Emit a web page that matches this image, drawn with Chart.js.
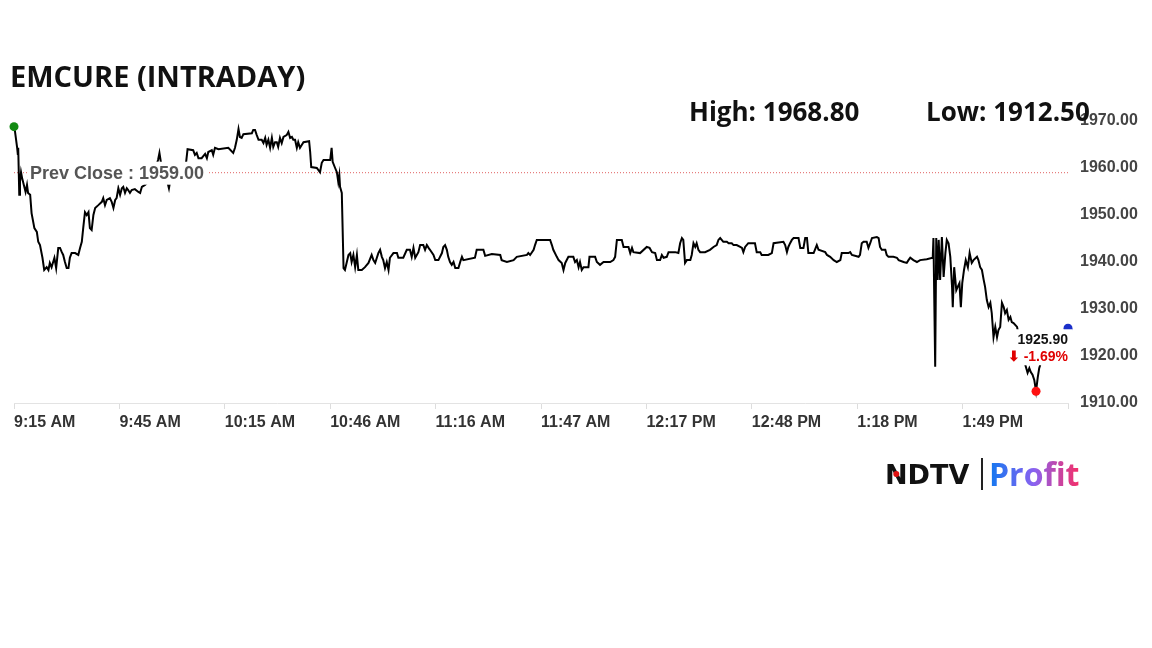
<!DOCTYPE html>
<html>
<head>
<meta charset="utf-8">
<script src="https://cdn.jsdelivr.net/npm/chart.js@4.4.1/dist/chart.umd.min.js"></script>
<style>
  html, body { margin: 0; padding: 0; background: #fff; }
  canvas { display: block; }
</style>
</head>
<body>
<canvas id="grafica" width="1152" height="648"></canvas>
<script>
// ticks every 30 slots, ten labels, last slot (300) has no label
var tickLabels = ['9:15 AM', '9:45 AM', '10:15 AM', '10:46 AM', '11:16 AM', '11:47 AM', '12:17 PM', '12:48 PM', '1:18 PM', '1:49 PM']
var yTicks = [1910, 1920, 1930, 1940, 1950, 1960, 1970]

var titulo = 'EMCURE (INTRADAY)'
var prevClose = 1959.00
var lastPrice = 1925.90
var dayHigh = 1968.80
var dayLow = 1912.50

// time slots (x)
var slots = [
  0, 0.3, 0.9, 1.1, 1.2, 1.5, 1.7, 2.0, 2.3, 2.8,
  3.3, 3.7, 4.0, 4.6, 5.0, 5.8, 6.5, 6.9, 7.4, 8.1,
  8.6, 9.3, 9.8, 10.2, 10.7, 11.5, 12.0, 12.6, 13.1, 13.6,
  14.0, 14.5, 15.0, 15.5, 15.9, 16.4, 17.4, 18.3, 18.8, 19.3,
  19.7, 20.2, 20.7, 21.2, 21.6, 22.1, 22.6, 23.1, 24.0, 25.0,
  25.4, 25.9, 26.4, 27.3, 27.8, 28.3, 28.8, 29.2, 29.7, 30.2,
  30.7, 31.1, 31.6, 32.1, 32.5, 33.0, 33.5, 34.4, 35.4, 35.9,
  36.4, 37.3, 38.7, 40.1, 41.0, 41.4, 41.8, 43.0, 44.1, 44.7,
  46.1, 47.8, 49.0, 49.4, 51.0, 51.5, 52.0, 52.5, 53.4, 54.4,
  54.9, 55.3, 56.3, 56.7, 57.2, 58.2, 61.0, 62.4, 62.9, 63.4,
  63.9, 64.3, 64.8, 65.3, 67.7, 68.1, 68.6, 69.1, 69.6, 70.5,
  71.0, 71.5, 71.9, 72.4, 72.9, 73.4, 73.8, 74.3, 74.8, 75.2,
  75.7, 76.2, 76.7, 77.6, 78.1, 78.6, 79.1, 79.5, 80.0, 80.5,
  80.9, 81.4, 81.9, 82.4, 84.0, 84.3, 84.6, 86.2, 87.1, 87.6,
  88.1, 90.0, 90.4, 90.7, 91.4, 91.9, 92.3, 92.6, 92.8, 93.3, 93.8,
  94.2, 95.2, 95.7, 96.1, 96.6, 97.1, 97.6, 98.0, 99.0, 99.9,
  100.9, 101.8, 102.3, 102.8, 103.7, 104.2, 104.7, 105.1, 105.6, 106.1,
  106.6, 107.0, 108.0, 109.0, 109.4, 110.8, 111.8, 112.7, 113.2, 113.7,
  114.2, 115.1, 115.6, 116.5, 117.0, 117.5, 118.0, 118.4, 119.4, 119.9,
  120.8, 121.8, 122.2, 122.7, 123.2, 123.6, 124.1, 124.6, 125.1, 125.6,
  126.5, 127.0, 127.5, 127.9, 131.2, 131.7, 133.6, 134.1, 136.0, 138.4,
  138.8, 140.3, 142.2, 143.1, 146.0, 146.4, 146.9, 147.9, 148.3, 148.8,
  152.6, 153.1, 153.5, 154.5, 155.0, 155.9, 156.4, 156.9, 157.8, 159.2,
  159.7, 160.2, 160.7, 161.1, 161.6, 162.1, 163.5, 163.8, 165.4, 165.9,
  166.8, 167.8, 169.7, 170.6, 171.1, 171.6, 173.0, 173.5, 174.9, 175.4,
  175.9, 176.3, 178.2, 180.1, 180.9, 181.6, 182.5, 183.0, 183.9, 184.4,
  184.9, 185.8, 186.3, 188.2, 189.1, 189.6, 190.1, 190.5, 191.0, 191.5,
  192.5, 192.9, 193.4, 193.9, 194.3, 194.8, 195.3, 196.7, 198.1, 199.1,
  200.0, 200.5, 201.0, 201.9, 202.9, 203.4, 204.3, 204.8, 205.7, 206.7,
  207.2, 207.6, 208.1, 209.0, 210.9, 211.4, 212.4, 212.8, 214.7, 215.7,
  216.2, 219.0, 219.5, 220.0, 220.4, 220.9, 221.4, 221.9, 223.3, 223.8,
  224.7, 225.2, 225.7, 226.1, 227.6, 228.5, 229.0, 230.9, 231.4, 232.3,
  233.3, 234.2, 235.2, 235.6, 237.5, 238.0, 238.5, 240.4, 240.8, 241.3,
  241.8, 242.7, 243.2, 243.7, 244.2, 245.6, 246.1, 246.5, 247.0, 248.0,
  248.4, 248.9, 250.3, 251.3, 251.8, 253.2, 254.1, 254.6, 255.1, 256.0,
  257.0, 257.9, 259.8, 261.5,
  261.7, 262.2, 262.5, 262.9, 263.2, 263.6, 264.1, 264.6, 265.1, 265.5,
  266.0, 266.5, 267.0, 267.2, 267.6, 268.2, 268.6, 269.1, 269.5, 269.9,
  270.4, 270.9, 271.5, 272.0, 272.6, 273.1, 274.1, 274.5, 275.0, 275.5,
  276.0, 276.4, 276.9, 277.4, 277.9, 278.3, 278.8, 279.3, 279.8, 280.2,
  280.7, 281.2, 281.7, 282.1, 282.6, 283.1, 283.6, 284.0, 284.5, 285.5,
  286.2, 287.1, 288.0, 288.5, 289.0, 289.4, 289.9, 290.4, 290.9, 291.4,
  291.8, 292.1
]

// price at each slot
var precios = [
  1968.8, 1967.7, 1964.3, 1962.8, 1964.3, 1954.3, 1957.0, 1959.1, 1957.9, 1956.4,
  1954.9, 1956.4, 1954.7, 1954.3, 1950.4, 1947.2, 1946.4, 1944.3, 1943.6, 1940.9,
  1938.3, 1938.9, 1938.3, 1939.8, 1938.9, 1940.9, 1938.7, 1943.0, 1943.0, 1942.1,
  1941.5, 1940.0, 1938.7, 1938.7, 1940.9, 1941.9, 1941.9, 1941.5, 1943.0, 1944.3,
  1947.2, 1950.6, 1950.0, 1950.6, 1947.2, 1946.8, 1950.0, 1951.5, 1952.1, 1952.8,
  1953.6, 1952.1, 1953.2, 1953.6, 1952.8, 1951.5, 1953.2, 1953.6, 1955.7, 1954.3,
  1955.7, 1956.0, 1954.7, 1955.7, 1955.3, 1954.7, 1955.3, 1955.5, 1954.9, 1954.7,
  1956.0, 1956.4, 1957.4, 1959.6, 1961.7, 1963.2, 1961.3, 1959.1, 1955.7, 1958.3,
  1959.1, 1960.0, 1961.3, 1964.0, 1963.8, 1962.8, 1963.2, 1962.1, 1962.1, 1963.0,
  1962.1, 1963.4, 1963.8, 1962.8, 1964.3, 1964.0, 1964.3, 1963.2, 1964.3, 1966.0,
  1968.3, 1966.6, 1966.4, 1967.2, 1967.4, 1968.1, 1968.1, 1967.0, 1966.0, 1966.0,
  1965.3, 1966.4, 1964.9, 1966.0, 1964.3, 1966.4, 1964.5, 1965.5, 1965.5, 1964.5,
  1966.4, 1965.3, 1966.6, 1967.0, 1967.7, 1966.4, 1966.6, 1966.0, 1966.0, 1964.3,
  1965.5, 1964.3, 1964.9, 1965.5, 1965.7, 1963.4, 1960.2, 1960.0, 1959.1, 1961.1,
  1961.7, 1961.7, 1964.3, 1961.3, 1960.0, 1959.1, 1957.0, 1958.5, 1956.0, 1954.7, 1938.7,
  1938.3, 1941.5, 1941.9, 1940.0, 1941.5, 1938.9, 1941.5, 1938.3, 1938.3, 1938.9,
  1939.8, 1941.5, 1940.4, 1939.8, 1941.9, 1942.6, 1941.1, 1940.4, 1938.7, 1940.0,
  1938.3, 1940.9, 1941.9, 1941.9, 1940.9, 1940.9, 1942.6, 1942.6, 1941.1, 1943.0,
  1940.9, 1942.1, 1943.6, 1943.6, 1942.6, 1943.6, 1943.0, 1942.6, 1941.5, 1940.4,
  1940.4, 1941.9, 1943.2, 1943.6, 1942.6, 1941.1, 1940.0, 1939.4, 1940.0, 1938.7,
  1938.7, 1940.0, 1941.1, 1940.4, 1940.9, 1942.6, 1942.6, 1941.3, 1941.7, 1941.5,
  1940.4, 1940.0, 1940.4, 1941.1, 1941.5, 1941.9, 1941.5, 1942.6, 1943.6, 1944.7,
  1944.7, 1943.6, 1942.6, 1941.1, 1940.4, 1939.8, 1938.3, 1939.8, 1941.1, 1941.1,
  1940.0, 1940.4, 1938.9, 1940.0, 1938.3, 1938.9, 1938.9, 1941.1, 1941.1, 1940.0,
  1939.4, 1940.0, 1940.0, 1940.4, 1941.1, 1944.7, 1944.7, 1943.2, 1943.2, 1941.9,
  1943.0, 1942.1, 1941.9, 1943.2, 1943.0, 1942.1, 1941.9, 1940.4, 1940.4, 1941.5,
  1940.9, 1941.1, 1942.1, 1942.1, 1941.9, 1944.0, 1945.1, 1944.7, 1939.8, 1940.4,
  1940.4, 1941.5, 1944.0, 1943.2, 1944.0, 1942.6, 1942.1, 1942.1, 1942.6, 1943.2,
  1943.6, 1944.7, 1945.1, 1944.3, 1944.3, 1944.0, 1944.0, 1943.6, 1943.6, 1943.2,
  1943.0, 1942.1, 1943.2, 1944.0, 1944.0, 1942.1, 1942.1, 1941.5, 1941.5, 1941.9,
  1944.0, 1944.3, 1943.6, 1942.1, 1943.2, 1944.0, 1944.7, 1945.1, 1945.1, 1943.0,
  1943.0, 1945.1, 1945.1, 1941.9, 1941.9, 1943.6, 1942.6, 1942.1, 1941.5, 1941.1,
  1940.4, 1940.0, 1940.4, 1941.9, 1941.9, 1942.1, 1941.5, 1941.1, 1941.5, 1944.0,
  1944.3, 1944.3, 1943.0, 1944.0, 1945.1, 1945.3, 1945.1, 1943.2, 1942.6, 1942.6,
  1941.5, 1941.1, 1941.1, 1940.9, 1940.4, 1940.0, 1939.8, 1940.4, 1940.9, 1940.4,
  1940.0, 1940.4, 1940.6, 1940.9,
  1945.1, 1917.7, 1945.1, 1936.2, 1944.7, 1936.2, 1945.3, 1936.8, 1941.9, 1944.7,
  1944.0, 1941.1, 1934.7, 1930.4, 1938.9, 1934.0, 1934.7, 1935.5, 1930.4, 1935.5,
  1938.3, 1940.4, 1938.9, 1941.9, 1939.8, 1940.4, 1941.1, 1940.4, 1938.9, 1938.3,
  1936.2, 1934.7, 1931.9, 1930.4, 1931.3, 1929.1, 1924.0, 1926.2, 1924.0, 1925.5,
  1926.2, 1931.3, 1930.4, 1929.1, 1929.8, 1927.7, 1928.3, 1927.2, 1927.0, 1926.2,
  1923.4, 1920.2, 1917.7, 1916.4, 1917.4, 1916.6, 1916.0, 1914.9, 1912.5, 1915.5,
  1917.4, 1918.1
]

var lastSlot = 300
var cambio = (lastPrice - prevClose) / prevClose * 100

var serie = slots.map(function (s, i) { return { x: s, y: precios[i] } })
var iLow = precios.indexOf(Math.min.apply(null, precios))

var fuente = '"Liberation Sans", Arial, sans-serif'

var extras = {
    id: 'extras',
    afterDatasetsDraw: function (chart) {
        var ctx = chart.ctx
        var x = chart.scales.x
        var y = chart.scales.y

        // prev close label (white box over the line)
        var py = y.getPixelForValue(prevClose)
        ctx.save()
        ctx.fillStyle = '#ffffff'
        ctx.fillRect(x.left + 14, py - 11, 180, 23)
        ctx.font = 'bold 18px ' + fuente
        ctx.fillStyle = '#555555'
        ctx.textBaseline = 'middle'
        ctx.textAlign = 'left'
        ctx.fillText('Prev Close : ' + prevClose.toFixed(2), x.left + 16, py + 1)

        // last price label
        var lx = x.right
        var ly = y.getPixelForValue(lastPrice)
        ctx.fillStyle = '#ffffff'
        ctx.fillRect(lx - 62, ly + 1, 66, 36)
        ctx.textAlign = 'right'
        ctx.font = 'bold 14px ' + fuente
        ctx.fillStyle = '#111111'
        ctx.fillText(lastPrice.toFixed(2), lx, ly + 12)
        ctx.fillStyle = '#e00000'
        ctx.fillText('\u2B07 ' + cambio.toFixed(2) + '%', lx, ly + 29)
        ctx.restore()
    },
    afterDraw: function (chart) {
        var ctx = chart.ctx
        ctx.save()
        ctx.textBaseline = 'alphabetic'
        ctx.textAlign = 'left'
        ctx.fillStyle = '#111111'
        ctx.font = 'bold 29px "Open Sans", sans-serif'
        ctx.fillText(titulo, 10, 87)
        ctx.font = 'bold 26px "Open Sans", sans-serif'
        ctx.fillText('High: ' + dayHigh.toFixed(2), 689, 121)
        ctx.fillText('Low: ' + dayLow.toFixed(2), 926, 121)

        // logo
        ctx.font = 'bold 27px "DejaVu Sans", sans-serif'
        ctx.fillStyle = '#111111'
        ctx.fillText('NDTV', 885, 484)
        var wN = ctx.measureText('N').width
        ctx.fillStyle = '#e01010'
        ctx.beginPath()
        ctx.arc(885 + wN / 2, 474, 3, 0, Math.PI * 2)
        ctx.fill()
        ctx.fillStyle = '#222222'
        ctx.fillRect(981, 458, 2, 32)
        var g = ctx.createLinearGradient(990, 0, 1078, 0)
        g.addColorStop(0, '#1478f0')
        g.addColorStop(0.5, '#8a62f0')
        g.addColorStop(1, '#f2306c')
        ctx.fillStyle = g
        ctx.font = 'bold 32px "Open Sans", sans-serif'
        ctx.fillText('Profit', 989, 486)
        ctx.restore()
    }
}

new Chart(document.getElementById('grafica'), {
    type: 'line',
    data: {
        datasets: [
            {
                data: [{ x: 0, y: dayHigh }],
                showLine: false,
                pointRadius: 4.5,
                pointBackgroundColor: '#128a12',
                pointBorderWidth: 0,
                clip: false,
                order: 0
            },
            {
                data: [{ x: slots[iLow], y: precios[iLow] }],
                showLine: false,
                pointRadius: 4.5,
                pointBackgroundColor: '#ff1010',
                pointBorderWidth: 0,
                clip: false,
                order: 0
            },
            {
                data: [{ x: lastSlot, y: lastPrice }],
                showLine: false,
                pointRadius: 4.5,
                pointBackgroundColor: '#1b2fc9',
                pointBorderWidth: 0,
                clip: false,
                order: 0
            },
            {
                data: serie,
                borderColor: '#000000',
                borderWidth: 2,
                pointRadius: 0,
                tension: 0,
                order: 1
            },
            {
                data: [{ x: 0, y: prevClose }, { x: lastSlot, y: prevClose }],
                borderColor: '#e06060',
                borderWidth: 1,
                borderDash: [1, 2],
                pointRadius: 0,
                order: 2
            }
        ]
    },
    options: {
        responsive: false,
        animation: false,
        layout: { padding: { top: 121, left: 14, right: 0, bottom: 0 } },
        plugins: {
            legend: { display: false },
            tooltip: { enabled: false }
        },
        scales: {
            x: {
                type: 'linear',
                min: 0,
                max: lastSlot,
                afterFit: function (s) { s.height = 245 },
                grid: {
                    display: true,
                    drawOnChartArea: false,
                    drawTicks: true,
                    tickLength: 6,
                    color: '#dddddd'
                },
                border: { display: true, color: '#e3e3e3', width: 1 },
                ticks: {
                    stepSize: 30,
                    autoSkip: false,
                    maxRotation: 0,
                    align: 'start',
                    padding: 4,
                    color: '#333333',
                    font: { family: fuente, size: 16, weight: 'bold' },
                    callback: function (v, i) { return tickLabels[i] || '' }
                }
            },
            y: {
                position: 'right',
                min: yTicks[0],
                max: yTicks[yTicks.length - 1],
                afterFit: function (s) { s.width = 84 },
                grid: { display: false, drawTicks: false },
                border: { display: false },
                ticks: {
                    stepSize: 10,
                    padding: 12,
                    color: '#444444',
                    font: { family: fuente, size: 16, weight: 'bold' },
                    callback: function (v) { return v.toFixed(2) }
                }
            }
        }
    },
    plugins: [extras]
})
</script>
</body>
</html>
